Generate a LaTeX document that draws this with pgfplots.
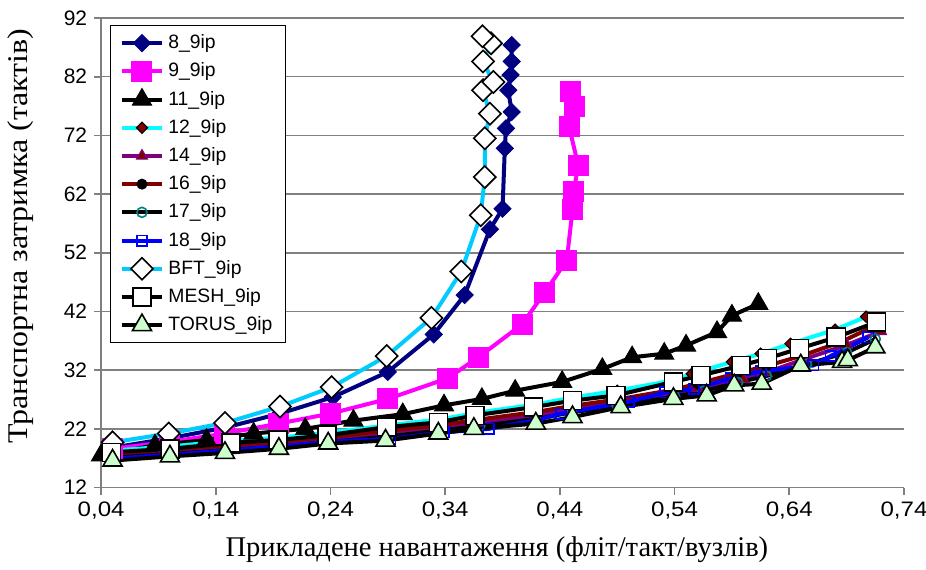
\documentclass[border=0pt]{standalone}
\usepackage{fontspec}
\setmainfont{Liberation Sans}
\newfontfamily\tnr{Liberation Serif}
\newfontfamily\tnrwide[FakeStretch=1.12]{Liberation Serif}
\newfontfamily\sanswide[FakeStretch=1.15]{Liberation Sans}
\usepackage{pgfplots}
\pgfplotsset{compat=1.18}
\definecolor{navy}{HTML}{000080}
\definecolor{mag}{HTML}{FF00FF}
\definecolor{cyn}{HTML}{00FFFF}
\definecolor{sky}{HTML}{00CCFF}
\definecolor{dred}{HTML}{800000}
\definecolor{purp}{HTML}{800080}
\definecolor{tealc}{HTML}{008080}
\definecolor{blu}{HTML}{0000FF}
\definecolor{lgreen}{HTML}{CCFFCC}
\definecolor{gridc}{HTML}{808080}
\begin{document}
\begin{tikzpicture}
\useasboundingbox (-50.5bp,-41bp) rectangle (412bp,243.5bp);
\begin{axis}[
  scale only axis, width=401bp, height=234.5bp,
  at={(0,0)}, anchor=south west,
  xmin=0.04, xmax=0.74, ymin=12, ymax=92,
  xtick={0.04,0.14,0.24,0.34,0.44,0.54,0.64,0.74},
  xticklabels={{0,04},{0,14},{0,24},{0,34},{0,44},{0,54},{0,64},{0,74}},
  ytick={12,22,32,42,52,62,72,82,92},
  /pgf/number format/assume math mode=true,
  yticklabel style={font=\fontsize{10.5}{12}\selectfont},
  xticklabel style={font=\sanswide\fontsize{10.5}{12}\selectfont},
  axis x line=bottom, axis y line=left,
  axis line style={gridc, line width=0.8bp, -},
  tick style={gridc, line width=0.8bp},
  tick align=outside, major tick length=3.5bp,
  ymajorgrids=true, grid style={gridc, line width=0.75bp},
  clip=false,
  xlabel={\tnr Прикладене навантаження (фліт/такт/вузлів)},
  ylabel={\tnrwide Транспортна затримка (тактів)},
  label style={font=\fontsize{14.3}{16}\selectfont},
  xlabel style={at={(rel axis cs:0.493,0)}, anchor=north, yshift=-21bp},
  ylabel style={at={(rel axis cs:0,0.535)}, anchor=south, yshift=30bp},
  every axis plot/.append style={line width=2bp},
  legend cell align=left,
  legend style={at={(rel axis cs:0.011,0.985)}, anchor=north west,
    draw=black, line width=0.6bp, fill=white,
    font=\fontsize{9.7}{11}\selectfont, row sep=1.6bp,
    inner xsep=4.5bp, inner ysep=2.5bp},
  legend image code/.code={\draw[mark repeat=2,mark phase=2] plot coordinates {(0cm,0cm)(0.36cm,0cm)(0.72cm,0cm)};},
]
% 8_9ip
\addplot[navy, mark=square*, mark size=3bp, mark options={rotate=45, solid, fill=navy, draw=navy, line width=0.5bp}] coordinates {
(0.050,18.8)(0.100,20.4)(0.148,22.2)(0.196,24.6)(0.242,27.4)(0.290,31.7)(0.330,38.1)(0.357,44.8)(0.379,56.0)(0.390,59.5)(0.392,69.8)(0.393,73.2)(0.398,76.0)(0.395,79.7)(0.397,82.3)(0.398,84.6)(0.398,87.4)};
\addlegendentry{8\_9ip}
% 9_9ip
\addplot[mag, mark=square*, mark size=5bp, mark options={solid, fill=mag, draw=mag, line width=0.5bp}] coordinates {
(0.050,18.6)(0.100,19.8)(0.148,21.2)(0.195,22.9)(0.240,24.6)(0.290,27.1)(0.342,30.6)(0.369,34.2)(0.407,39.8)(0.427,45.3)(0.446,50.7)(0.451,59.3)(0.452,62.4)(0.456,66.9)(0.448,73.5)(0.453,76.9)(0.449,79.4)};
\addlegendentry{9\_9ip}
% 11_9ip
\addplot[black, mark=triangle*, mark size=5.5bp, mark options={solid, fill=black, line width=0.5bp}] coordinates {
(0.040,17.5)(0.087,19.2)(0.132,20.1)(0.173,21.2)(0.218,22.0)(0.260,23.4)(0.303,24.5)(0.339,26.0)(0.372,27.1)(0.401,28.5)(0.442,30.0)(0.477,32.2)(0.503,34.2)(0.531,34.8)(0.550,36.2)(0.577,38.5)(0.590,41.3)(0.613,43.3)};
\addlegendentry{11\_9ip}
% 12_9ip
\addplot[cyn, mark=square*, mark size=2bp, mark options={rotate=45, solid, fill=dred, draw=black, line width=0.5bp}] coordinates {
(0.050,18.3)(0.100,19.0)(0.150,19.9)(0.195,20.5)(0.240,21.4)(0.290,22.6)(0.335,23.6)(0.370,24.8)(0.420,26.2)(0.450,27.3)(0.490,28.5)(0.540,30.3)(0.555,31.4)(0.590,33.4)(0.615,34.8)(0.641,36.5)(0.680,38.9)(0.707,41.1)};
\addlegendentry{12\_9ip}
% 14_9ip
\addplot[purp, mark=triangle*, mark size=3.2bp, mark options={solid, fill=dred, draw=purp, line width=0.5bp}] coordinates {
(0.050,17.4)(0.100,18.0)(0.150,18.8)(0.195,19.4)(0.240,20.2)(0.290,21.2)(0.335,22.1)(0.370,23.0)(0.420,24.3)(0.450,25.3)(0.490,26.4)(0.540,28.0)(0.560,28.9)(0.600,30.4)(0.620,31.6)(0.655,34.0)(0.690,36.3)(0.720,38.6)};
\addlegendentry{14\_9ip}
% 16_9ip
\addplot[dred, mark=*, mark size=2.5bp, mark options={solid, fill=black, draw=black, line width=0.5bp}] coordinates {
(0.050,17.8)(0.100,18.4)(0.150,19.2)(0.195,19.8)(0.240,20.6)(0.290,21.7)(0.335,22.6)(0.370,23.6)(0.420,24.9)(0.450,25.9)(0.490,27.0)(0.540,28.7)(0.560,29.7)(0.595,31.5)(0.620,32.7)(0.650,34.4)(0.685,36.8)(0.712,39.3)};
\addlegendentry{16\_9ip}
% 17_9ip
\addplot[black, mark=o, mark size=2.5bp, mark options={solid, draw=tealc, fill=none, line width=0.8bp}] coordinates {
(0.050,17.1)(0.100,17.7)(0.150,18.4)(0.195,19.0)(0.240,19.8)(0.290,20.7)(0.335,21.7)(0.370,22.5)(0.420,23.7)(0.450,24.8)(0.490,25.9)(0.540,27.5)(0.565,28.4)(0.595,29.9)(0.620,31.0)(0.655,33.0)(0.690,35.0)(0.715,37.3)};
\addlegendentry{17\_9ip}
% 18_9ip
\addplot[blu, mark=square, mark size=2.6bp, mark options={solid, draw=blu, fill=none, line width=0.8bp}] coordinates {
(0.050,16.9)(0.100,17.6)(0.150,18.3)(0.195,19.0)(0.240,19.8)(0.292,20.3)(0.339,21.4)(0.378,22.0)(0.420,23.5)(0.441,24.6)(0.500,26.6)(0.532,28.2)(0.557,28.8)(0.589,30.6)(0.615,31.8)(0.661,32.8)(0.676,34.4)(0.709,37.6)};
\addlegendentry{18\_9ip}
% BFT_9ip
\addplot[sky, mark=square*, mark size=3.9bp, mark options={rotate=45, solid, fill=white, draw=black, line width=0.8bp}] coordinates {
(0.050,19.7)(0.099,21.2)(0.148,23.0)(0.196,25.8)(0.241,29.1)(0.289,34.4)(0.328,40.9)(0.354,48.8)(0.371,58.4)(0.3745,64.9)(0.3745,71.5)(0.379,75.7)(0.373,79.7)(0.382,81.1)(0.373,84.6)(0.380,87.7)(0.3725,88.9)};
\addlegendentry{BFT\_9ip}
% MESH_9ip
\addplot[black, mark=square*, mark size=4.5bp, mark options={solid, fill=white, draw=black, line width=0.8bp}] coordinates {
(0.049,18.0)(0.100,18.6)(0.153,19.6)(0.194,20.1)(0.237,20.9)(0.289,22.3)(0.334,23.1)(0.366,24.3)(0.417,25.7)(0.451,26.8)(0.489,27.7)(0.539,30.0)(0.563,31.1)(0.598,32.8)(0.621,34.0)(0.649,35.7)(0.681,37.6)(0.716,40.2)};
\addlegendentry{MESH\_9ip}
% TORUS_9ip
\addplot[black, mark=triangle*, mark size=5.5bp, mark options={solid, fill=lgreen, draw=black, line width=0.8bp}] coordinates {
(0.050,16.6)(0.100,17.3)(0.148,17.9)(0.195,18.6)(0.238,19.5)(0.288,20.0)(0.334,21.2)(0.365,22.0)(0.419,22.9)(0.451,24.0)(0.493,25.7)(0.539,27.1)(0.568,27.7)(0.592,29.4)(0.616,29.7)(0.650,32.8)(0.686,33.4)(0.691,33.7)(0.715,35.9)};
\addlegendentry{TORUS\_9ip}
\end{axis}
\end{tikzpicture}
\end{document}
